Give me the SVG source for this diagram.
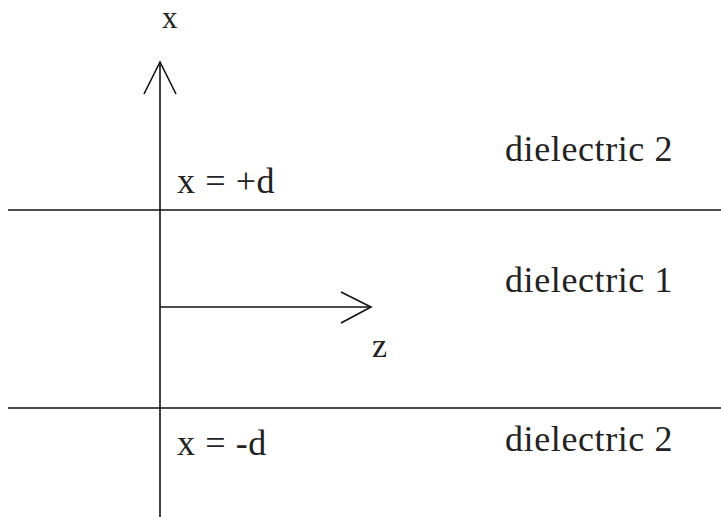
<svg xmlns="http://www.w3.org/2000/svg" width="721" height="517" viewBox="0 0 721 517">
<style>
.t{font-family:"Liberation Serif","Times New Roman",serif;font-size:36px;fill:#222;letter-spacing:0.6px}
.l{stroke:#111;stroke-width:1.6;fill:none}
</style>
<rect width="721" height="517" fill="#fff"/>
<g id="connectors">
<line class="l" x1="8" y1="210" x2="721" y2="210"/>
<line class="l" x1="8" y1="408" x2="721" y2="408"/>
<line class="l" x1="160" y1="62" x2="160" y2="517"/>
<polyline class="l" points="144,94 160,62 176,94"/>
<line class="l" x1="160" y1="307" x2="371" y2="307"/>
<polyline class="l" points="341,292 371,307 341,323"/>
</g>
<g id="label-x"><text class="t" x="162" y="28" style="font-size:31px">x</text></g>
<g id="label-xpd"><text class="t" x="177" y="193">x = +d</text></g>
<g id="label-xmd"><text class="t" x="177" y="455">x = -d</text></g>
<g id="label-z"><text class="t" x="372" y="357" style="font-size:34px">z</text></g>
<g id="diel2-top"><text class="t" x="505" y="161">dielectric 2</text></g>
<g id="diel1"><text class="t" x="505" y="292">dielectric 1</text></g>
<g id="diel2-bot"><text class="t" x="505" y="451">dielectric 2</text></g>
</svg>
